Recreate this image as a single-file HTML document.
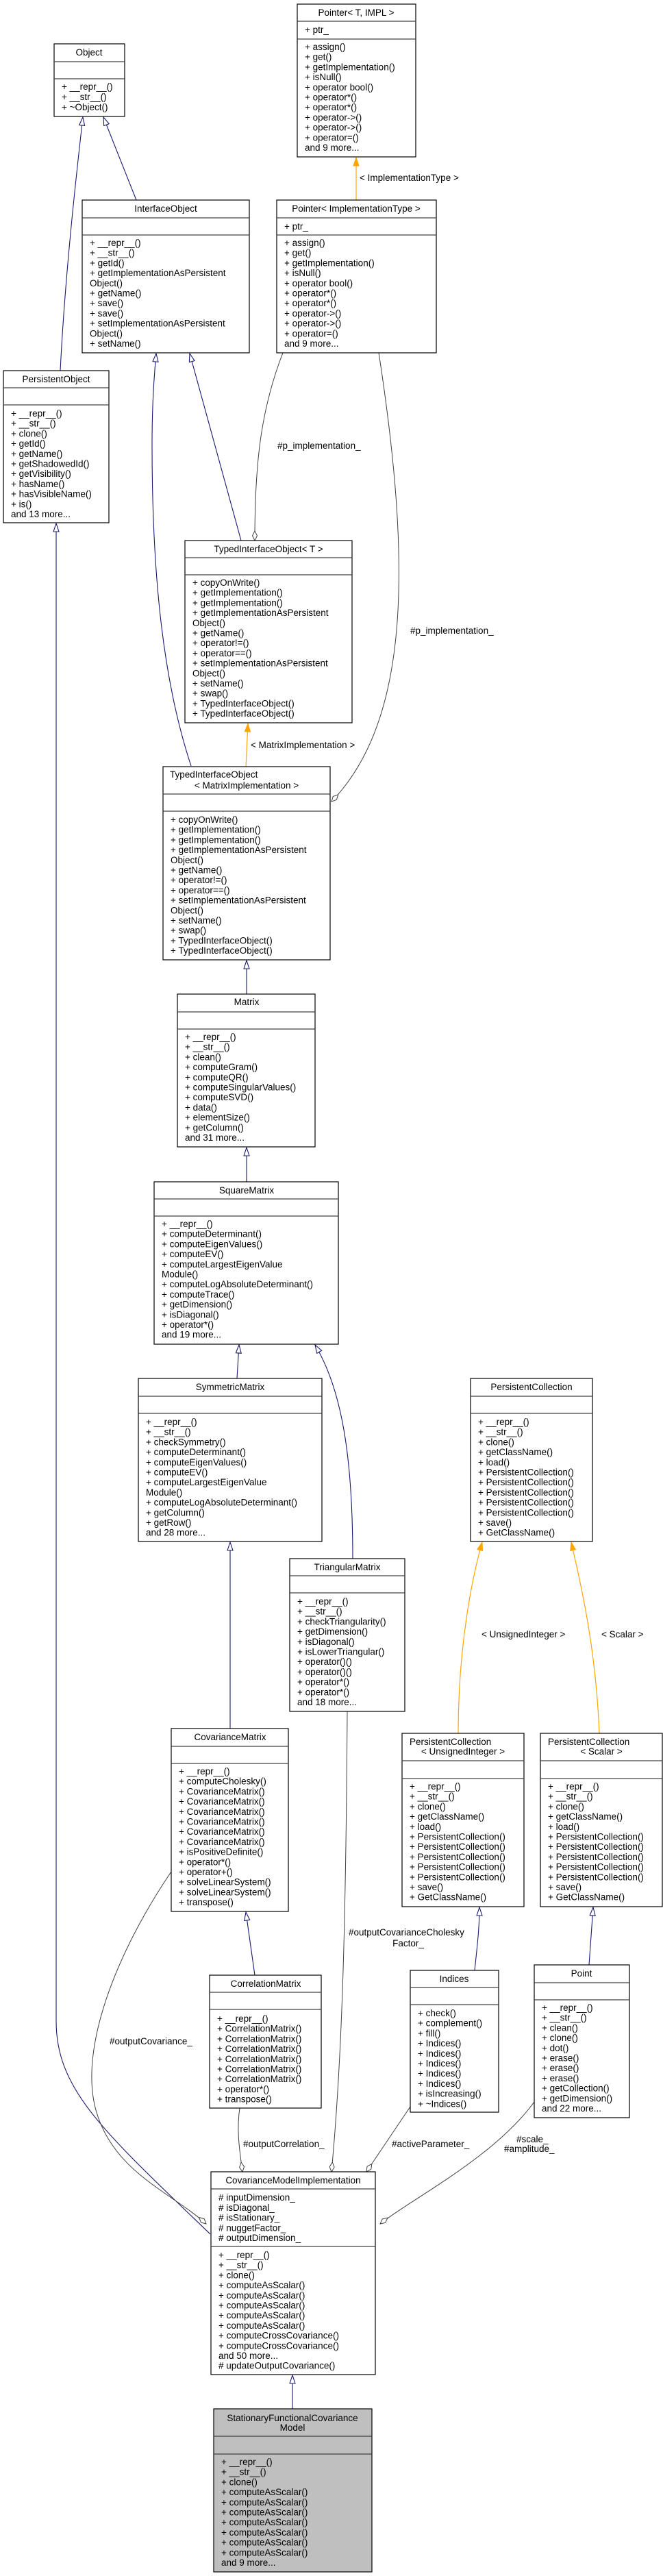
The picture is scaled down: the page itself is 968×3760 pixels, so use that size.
<!DOCTYPE html>
<html><head><meta charset="utf-8"><style>
html,body{margin:0;padding:0;background:#fff;}
svg{display:block;}
text{font-family:"Liberation Sans","DejaVu Sans",sans-serif;font-size:13.5px;fill:#000;}
.b{fill:#fff;stroke:#000;stroke-width:1.2;}
.g{fill:#bfbfbf;stroke:#000;stroke-width:1.2;}
.s{stroke:#404040;stroke-width:1.2;}
.inh{fill:none;stroke:#191970;stroke-width:1.1;marker-end:url(#tri);}
.cmp{fill:none;stroke:#404040;stroke-width:1;marker-end:url(#dia);}
.tpl{fill:none;stroke:#ffa500;stroke-width:1.2;marker-end:url(#ora);}
.c{text-anchor:middle;}
</style></head><body>
<svg width="968" height="3760" viewBox="0 0 968 3760" xmlns="http://www.w3.org/2000/svg">
<defs>
<marker id="tri" markerUnits="userSpaceOnUse" markerWidth="14" markerHeight="10" refX="13" refY="4.5" orient="auto"><path d="M1,0.5 L13,4.5 L1,8.5 Z" fill="#fff" stroke="#191970" stroke-width="1.1"/></marker>
<marker id="ora" markerUnits="userSpaceOnUse" markerWidth="14" markerHeight="10" refX="13" refY="4.5" orient="auto"><path d="M1,0.5 L13,4.5 L1,8.5 Z" fill="#ffa500" stroke="#ffa500" stroke-width="1"/></marker>
<marker id="dia" markerUnits="userSpaceOnUse" markerWidth="16" markerHeight="9" refX="15" refY="4" orient="auto"><path d="M1,4 L8,0.5 L15,4 L8,7.5 Z" fill="#fff" stroke="#404040" stroke-width="1"/></marker>
</defs>

<!-- edges -->
<path class="inh" d="M199,292 L151,171"/>
<path class="inh" d="M88,541 C95,400 112,250 121,171"/>
<path class="inh" d="M352,789 L277,516"/>
<path class="inh" d="M279,1118 C240,1000 222,850 222,650 C222,580 226,540 228,516"/>
<path class="cmp" d="M413,515 C380,600 372,680 372,789"/>
<path class="cmp" d="M553,515 C600,820 600,1050 484,1170"/>
<path class="tpl" d="M520,292 L520,230"/>
<path class="tpl" d="M359,1119 L362,1056"/>
<path class="inh" d="M360,1451 L360,1402"/>
<path class="inh" d="M360,1725 L360,1675"/>
<path class="inh" d="M346,2012 L349,1963"/>
<path class="inh" d="M515,2275 C515,2130 500,2030 460,1963"/>
<path class="inh" d="M336,2523 L336,2251"/>
<path class="tpl" d="M669,2530 C669,2400 690,2300 704,2251"/>
<path class="tpl" d="M875,2530 C870,2400 845,2300 834,2251"/>
<path class="inh" d="M372,2883 L359,2791"/>
<path class="inh" d="M693,2876 C698,2830 700,2810 700,2784"/>
<path class="inh" d="M860,2868 L866,2784"/>
<path class="inh" d="M307,3261 C150,3110 82,3050 82,2950 L82,764"/>
<path class="cmp" d="M507,2498 C505,2800 500,3000 484,3170"/>
<path class="cmp" d="M350,3077 C345,3110 350,3140 354,3170"/>
<path class="cmp" d="M250,2732 C170,2850 115,2990 140,3080 C165,3170 250,3200 301,3246"/>
<path class="cmp" d="M599,3075 L535,3170"/>
<path class="cmp" d="M780,3068 C720,3150 600,3210 555,3246"/>
<path class="inh" d="M427,3516 L427,3467"/>

<!-- edge labels -->
<text x="525" y="264">&lt; ImplementationType &gt;</text>
<text x="405" y="655">#p_implementation_</text>
<text x="599" y="925">#p_implementation_</text>
<text x="366" y="1092">&lt; MatrixImplementation &gt;</text>
<text x="703" y="2390">&lt; UnsignedInteger &gt;</text>
<text x="878" y="2390">&lt; Scalar &gt;</text>
<text x="509" y="2825">#outputCovarianceCholesky</text>
<text x="596" y="2841" class="c">Factor_</text>
<text x="160" y="2984">#outputCovariance_</text>
<text x="355" y="3134">#outputCorrelation_</text>
<text x="572" y="3134">#activeParameter_</text>
<text x="754" y="3127">#scale_</text>
<text x="736" y="3141">#amplitude_</text>

<!-- Pointer<T, IMPL> -->
<rect class="b" x="434" y="6" width="173" height="223"/>
<line class="s" x1="434" y1="31" x2="607" y2="31"/><line class="s" x1="434" y1="57" x2="607" y2="57"/>
<text x="520" y="23" class="c">Pointer&lt; T, IMPL &gt;</text>
<text x="445" y="48">+ ptr_</text>
<text x="445" y="73">+ assign()</text><text x="445" y="87.7">+ get()</text><text x="445" y="102.4">+ getImplementation()</text><text x="445" y="117.1">+ isNull()</text><text x="445" y="131.8">+ operator bool()</text><text x="445" y="146.5">+ operator*()</text><text x="445" y="161.2">+ operator*()</text><text x="445" y="175.9">+ operator-&gt;()</text><text x="445" y="190.6">+ operator-&gt;()</text><text x="445" y="205.3">+ operator=()</text><text x="445" y="220">and 9 more...</text>

<!-- Object -->
<rect class="b" x="79" y="64" width="103" height="106"/>
<line class="s" x1="79" y1="90" x2="182" y2="90"/><line class="s" x1="79" y1="115" x2="182" y2="115"/>
<text x="130" y="81" class="c">Object</text>
<text x="90" y="131">+ __repr__()</text><text x="90" y="146">+ __str__()</text><text x="90" y="161">+ ~Object()</text>

<!-- InterfaceObject -->
<rect class="b" x="120" y="292" width="244" height="223"/>
<line class="s" x1="120" y1="318" x2="364" y2="318"/><line class="s" x1="120" y1="343" x2="364" y2="343"/>
<text x="242" y="309" class="c">InterfaceObject</text>
<text x="131" y="359">+ __repr__()</text><text x="131" y="373.7">+ __str__()</text><text x="131" y="388.4">+ getId()</text><text x="131" y="403.1">+ getImplementationAsPersistent</text><text x="131" y="417.8">Object()</text><text x="131" y="432.5">+ getName()</text><text x="131" y="447.2">+ save()</text><text x="131" y="461.9">+ save()</text><text x="131" y="476.6">+ setImplementationAsPersistent</text><text x="131" y="491.3">Object()</text><text x="131" y="506">+ setName()</text>

<!-- Pointer<ImplementationType> -->
<rect class="b" x="404" y="292" width="233" height="223"/>
<line class="s" x1="404" y1="318" x2="637" y2="318"/><line class="s" x1="404" y1="343" x2="637" y2="343"/>
<text x="520" y="309" class="c">Pointer&lt; ImplementationType &gt;</text>
<text x="415" y="335">+ ptr_</text>
<text x="415" y="359">+ assign()</text><text x="415" y="373.7">+ get()</text><text x="415" y="388.4">+ getImplementation()</text><text x="415" y="403.1">+ isNull()</text><text x="415" y="417.8">+ operator bool()</text><text x="415" y="432.5">+ operator*()</text><text x="415" y="447.2">+ operator*()</text><text x="415" y="461.9">+ operator-&gt;()</text><text x="415" y="476.6">+ operator-&gt;()</text><text x="415" y="491.3">+ operator=()</text><text x="415" y="506">and 9 more...</text>

<!-- PersistentObject -->
<rect class="b" x="5" y="541" width="154" height="222"/>
<line class="s" x1="5" y1="566" x2="159" y2="566"/><line class="s" x1="5" y1="591" x2="159" y2="591"/>
<text x="82" y="558" class="c">PersistentObject</text>
<text x="16" y="608">+ __repr__()</text><text x="16" y="622.7">+ __str__()</text><text x="16" y="637.4">+ clone()</text><text x="16" y="652.1">+ getId()</text><text x="16" y="666.8">+ getName()</text><text x="16" y="681.5">+ getShadowedId()</text><text x="16" y="696.2">+ getVisibility()</text><text x="16" y="710.9">+ hasName()</text><text x="16" y="725.6">+ hasVisibleName()</text><text x="16" y="740.3">+ is()</text><text x="16" y="755">and 13 more...</text>

<!-- TypedInterfaceObject<T> -->
<rect class="b" x="270" y="789" width="244" height="266"/>
<line class="s" x1="270" y1="814" x2="514" y2="814"/><line class="s" x1="270" y1="839" x2="514" y2="839"/>
<text x="392" y="806" class="c">TypedInterfaceObject&lt; T &gt;</text>
<text x="281" y="855">+ copyOnWrite()</text><text x="281" y="869.7">+ getImplementation()</text><text x="281" y="884.4">+ getImplementation()</text><text x="281" y="899.1">+ getImplementationAsPersistent</text><text x="281" y="913.8">Object()</text><text x="281" y="928.5">+ getName()</text><text x="281" y="943.2">+ operator!=()</text><text x="281" y="957.9">+ operator==()</text><text x="281" y="972.6">+ setImplementationAsPersistent</text><text x="281" y="987.3">Object()</text><text x="281" y="1002">+ setName()</text><text x="281" y="1016.7">+ swap()</text><text x="281" y="1031.4">+ TypedInterfaceObject()</text><text x="281" y="1046.1">+ TypedInterfaceObject()</text>

<!-- TypedInterfaceObject<MatrixImplementation> -->
<rect class="b" x="238" y="1119" width="244" height="282"/>
<line class="s" x1="238" y1="1159" x2="482" y2="1159"/><line class="s" x1="238" y1="1184" x2="482" y2="1184"/>
<text x="248" y="1135">TypedInterfaceObject</text>
<text x="360" y="1151" class="c">&lt; MatrixImplementation &gt;</text>
<text x="249" y="1201">+ copyOnWrite()</text><text x="249" y="1215.7">+ getImplementation()</text><text x="249" y="1230.4">+ getImplementation()</text><text x="249" y="1245.1">+ getImplementationAsPersistent</text><text x="249" y="1259.8">Object()</text><text x="249" y="1274.5">+ getName()</text><text x="249" y="1289.2">+ operator!=()</text><text x="249" y="1303.9">+ operator==()</text><text x="249" y="1318.6">+ setImplementationAsPersistent</text><text x="249" y="1333.3">Object()</text><text x="249" y="1348">+ setName()</text><text x="249" y="1362.7">+ swap()</text><text x="249" y="1377.4">+ TypedInterfaceObject()</text><text x="249" y="1392.1">+ TypedInterfaceObject()</text>

<!-- Matrix -->
<rect class="b" x="259" y="1451" width="201" height="223"/>
<line class="s" x1="259" y1="1477" x2="460" y2="1477"/><line class="s" x1="259" y1="1502" x2="460" y2="1502"/>
<text x="360" y="1467" class="c">Matrix</text>
<text x="270" y="1518">+ __repr__()</text><text x="270" y="1532.7">+ __str__()</text><text x="270" y="1547.4">+ clean()</text><text x="270" y="1562.1">+ computeGram()</text><text x="270" y="1576.8">+ computeQR()</text><text x="270" y="1591.5">+ computeSingularValues()</text><text x="270" y="1606.2">+ computeSVD()</text><text x="270" y="1620.9">+ data()</text><text x="270" y="1635.6">+ elementSize()</text><text x="270" y="1650.3">+ getColumn()</text><text x="270" y="1665">and 31 more...</text>

<!-- SquareMatrix -->
<rect class="b" x="225" y="1725" width="269" height="237"/>
<line class="s" x1="225" y1="1750" x2="494" y2="1750"/><line class="s" x1="225" y1="1775" x2="494" y2="1775"/>
<text x="360" y="1742" class="c">SquareMatrix</text>
<text x="236" y="1791">+ __repr__()</text><text x="236" y="1805.7">+ computeDeterminant()</text><text x="236" y="1820.4">+ computeEigenValues()</text><text x="236" y="1835.1">+ computeEV()</text><text x="236" y="1849.8">+ computeLargestEigenValue</text><text x="236" y="1864.5">Module()</text><text x="236" y="1879.2">+ computeLogAbsoluteDeterminant()</text><text x="236" y="1893.9">+ computeTrace()</text><text x="236" y="1908.6">+ getDimension()</text><text x="236" y="1923.3">+ isDiagonal()</text><text x="236" y="1938">+ operator*()</text><text x="236" y="1952.7">and 19 more...</text>

<!-- SymmetricMatrix -->
<rect class="b" x="202" y="2012" width="268" height="238"/>
<line class="s" x1="202" y1="2038" x2="470" y2="2038"/><line class="s" x1="202" y1="2063" x2="470" y2="2063"/>
<text x="336" y="2029" class="c">SymmetricMatrix</text>
<text x="213" y="2080">+ __repr__()</text><text x="213" y="2094.7">+ __str__()</text><text x="213" y="2109.4">+ checkSymmetry()</text><text x="213" y="2124.1">+ computeDeterminant()</text><text x="213" y="2138.8">+ computeEigenValues()</text><text x="213" y="2153.5">+ computeEV()</text><text x="213" y="2168.2">+ computeLargestEigenValue</text><text x="213" y="2182.9">Module()</text><text x="213" y="2197.6">+ computeLogAbsoluteDeterminant()</text><text x="213" y="2212.3">+ getColumn()</text><text x="213" y="2227">+ getRow()</text><text x="213" y="2241.7">and 28 more...</text>

<!-- PersistentCollection -->
<rect class="b" x="687" y="2012" width="178" height="238"/>
<line class="s" x1="687" y1="2038" x2="865" y2="2038"/><line class="s" x1="687" y1="2063" x2="865" y2="2063"/>
<text x="776" y="2029" class="c">PersistentCollection</text>
<text x="698" y="2080">+ __repr__()</text><text x="698" y="2094.7">+ __str__()</text><text x="698" y="2109.4">+ clone()</text><text x="698" y="2124.1">+ getClassName()</text><text x="698" y="2138.8">+ load()</text><text x="698" y="2153.5">+ PersistentCollection()</text><text x="698" y="2168.2">+ PersistentCollection()</text><text x="698" y="2182.9">+ PersistentCollection()</text><text x="698" y="2197.6">+ PersistentCollection()</text><text x="698" y="2212.3">+ PersistentCollection()</text><text x="698" y="2227">+ save()</text><text x="698" y="2241.7">+ GetClassName()</text>

<!-- TriangularMatrix -->
<rect class="b" x="423" y="2275" width="168" height="223"/>
<line class="s" x1="423" y1="2300" x2="591" y2="2300"/><line class="s" x1="423" y1="2325" x2="591" y2="2325"/>
<text x="507" y="2292" class="c">TriangularMatrix</text>
<text x="434" y="2342">+ __repr__()</text><text x="434" y="2356.7">+ __str__()</text><text x="434" y="2371.4">+ checkTriangularity()</text><text x="434" y="2386.1">+ getDimension()</text><text x="434" y="2400.8">+ isDiagonal()</text><text x="434" y="2415.5">+ isLowerTriangular()</text><text x="434" y="2430.2">+ operator()()</text><text x="434" y="2444.9">+ operator()()</text><text x="434" y="2459.6">+ operator*()</text><text x="434" y="2474.3">+ operator*()</text><text x="434" y="2489">and 18 more...</text>

<!-- CovarianceMatrix -->
<rect class="b" x="250" y="2523" width="171" height="267"/>
<line class="s" x1="250" y1="2549" x2="421" y2="2549"/><line class="s" x1="250" y1="2574" x2="421" y2="2574"/>
<text x="336" y="2540" class="c">CovarianceMatrix</text>
<text x="261" y="2590">+ __repr__()</text><text x="261" y="2604.7">+ computeCholesky()</text><text x="261" y="2619.4">+ CovarianceMatrix()</text><text x="261" y="2634.1">+ CovarianceMatrix()</text><text x="261" y="2648.8">+ CovarianceMatrix()</text><text x="261" y="2663.5">+ CovarianceMatrix()</text><text x="261" y="2678.2">+ CovarianceMatrix()</text><text x="261" y="2692.9">+ CovarianceMatrix()</text><text x="261" y="2707.6">+ isPositiveDefinite()</text><text x="261" y="2722.3">+ operator*()</text><text x="261" y="2737">+ operator+()</text><text x="261" y="2751.7">+ solveLinearSystem()</text><text x="261" y="2766.4">+ solveLinearSystem()</text><text x="261" y="2781.1">+ transpose()</text>

<!-- PersistentCollection<UnsignedInteger> -->
<rect class="b" x="587" y="2530" width="178" height="253"/>
<line class="s" x1="587" y1="2570" x2="765" y2="2570"/><line class="s" x1="587" y1="2596" x2="765" y2="2596"/>
<text x="598" y="2547">PersistentCollection</text>
<text x="676" y="2561" class="c">&lt; UnsignedInteger &gt;</text>
<text x="598" y="2612">+ __repr__()</text><text x="598" y="2626.7">+ __str__()</text><text x="598" y="2641.4">+ clone()</text><text x="598" y="2656.1">+ getClassName()</text><text x="598" y="2670.8">+ load()</text><text x="598" y="2685.5">+ PersistentCollection()</text><text x="598" y="2700.2">+ PersistentCollection()</text><text x="598" y="2714.9">+ PersistentCollection()</text><text x="598" y="2729.6">+ PersistentCollection()</text><text x="598" y="2744.3">+ PersistentCollection()</text><text x="598" y="2759">+ save()</text><text x="598" y="2773.7">+ GetClassName()</text>

<!-- PersistentCollection<Scalar> -->
<rect class="b" x="789" y="2530" width="178" height="253"/>
<line class="s" x1="789" y1="2570" x2="967" y2="2570"/><line class="s" x1="789" y1="2596" x2="967" y2="2596"/>
<text x="800" y="2547">PersistentCollection</text>
<text x="878" y="2561" class="c">&lt; Scalar &gt;</text>
<text x="800" y="2612">+ __repr__()</text><text x="800" y="2626.7">+ __str__()</text><text x="800" y="2641.4">+ clone()</text><text x="800" y="2656.1">+ getClassName()</text><text x="800" y="2670.8">+ load()</text><text x="800" y="2685.5">+ PersistentCollection()</text><text x="800" y="2700.2">+ PersistentCollection()</text><text x="800" y="2714.9">+ PersistentCollection()</text><text x="800" y="2729.6">+ PersistentCollection()</text><text x="800" y="2744.3">+ PersistentCollection()</text><text x="800" y="2759">+ save()</text><text x="800" y="2773.7">+ GetClassName()</text>

<!-- CorrelationMatrix -->
<rect class="b" x="306" y="2883" width="163" height="194"/>
<line class="s" x1="306" y1="2908" x2="469" y2="2908"/><line class="s" x1="306" y1="2933" x2="469" y2="2933"/>
<text x="388" y="2900" class="c">CorrelationMatrix</text>
<text x="317" y="2951">+ __repr__()</text><text x="317" y="2965.7">+ CorrelationMatrix()</text><text x="317" y="2980.4">+ CorrelationMatrix()</text><text x="317" y="2995.1">+ CorrelationMatrix()</text><text x="317" y="3009.8">+ CorrelationMatrix()</text><text x="317" y="3024.5">+ CorrelationMatrix()</text><text x="317" y="3039.2">+ CorrelationMatrix()</text><text x="317" y="3053.9">+ operator*()</text><text x="317" y="3068.6">+ transpose()</text>

<!-- Indices -->
<rect class="b" x="599" y="2876" width="129" height="207"/>
<line class="s" x1="599" y1="2901" x2="728" y2="2901"/><line class="s" x1="599" y1="2926" x2="728" y2="2926"/>
<text x="663" y="2893" class="c">Indices</text>
<text x="610" y="2943">+ check()</text><text x="610" y="2957.7">+ complement()</text><text x="610" y="2972.4">+ fill()</text><text x="610" y="2987.1">+ Indices()</text><text x="610" y="3001.8">+ Indices()</text><text x="610" y="3016.5">+ Indices()</text><text x="610" y="3031.2">+ Indices()</text><text x="610" y="3045.9">+ Indices()</text><text x="610" y="3060.6">+ isIncreasing()</text><text x="610" y="3075.3">+ ~Indices()</text>

<!-- Point -->
<rect class="b" x="780" y="2868" width="139" height="223"/>
<line class="s" x1="780" y1="2894" x2="919" y2="2894"/><line class="s" x1="780" y1="2919" x2="919" y2="2919"/>
<text x="849" y="2885" class="c">Point</text>
<text x="791" y="2935">+ __repr__()</text><text x="791" y="2949.7">+ __str__()</text><text x="791" y="2964.4">+ clean()</text><text x="791" y="2979.1">+ clone()</text><text x="791" y="2993.8">+ dot()</text><text x="791" y="3008.5">+ erase()</text><text x="791" y="3023.2">+ erase()</text><text x="791" y="3037.9">+ erase()</text><text x="791" y="3052.6">+ getCollection()</text><text x="791" y="3067.3">+ getDimension()</text><text x="791" y="3082">and 22 more...</text>

<!-- CovarianceModelImplementation -->
<rect class="b" x="308" y="3170" width="240" height="296"/>
<line class="s" x1="308" y1="3195" x2="548" y2="3195"/><line class="s" x1="308" y1="3279" x2="548" y2="3279"/>
<text x="428" y="3187" class="c">CovarianceModelImplementation</text>
<text x="319" y="3212"># inputDimension_</text><text x="319" y="3226.8"># isDiagonal_</text><text x="319" y="3241.6"># isStationary_</text><text x="319" y="3256.4"># nuggetFactor_</text><text x="319" y="3271.2"># outputDimension_</text>
<text x="319" y="3296">+ __repr__()</text><text x="319" y="3310.7">+ __str__()</text><text x="319" y="3325.4">+ clone()</text><text x="319" y="3340.1">+ computeAsScalar()</text><text x="319" y="3354.8">+ computeAsScalar()</text><text x="319" y="3369.5">+ computeAsScalar()</text><text x="319" y="3384.2">+ computeAsScalar()</text><text x="319" y="3398.9">+ computeAsScalar()</text><text x="319" y="3413.6">+ computeCrossCovariance()</text><text x="319" y="3428.3">+ computeCrossCovariance()</text><text x="319" y="3443">and 50 more...</text><text x="319" y="3457.7"># updateOutputCovariance()</text>

<!-- StationaryFunctionalCovarianceModel -->
<rect class="g" x="312" y="3516" width="231" height="238"/>
<line class="s" x1="312" y1="3556" x2="543" y2="3556"/><line class="s" x1="312" y1="3582" x2="543" y2="3582"/>
<text x="427" y="3534" class="c">StationaryFunctionalCovariance</text>
<text x="427" y="3548" class="c">Model</text>
<text x="323" y="3598">+ __repr__()</text><text x="323" y="3612.7">+ __str__()</text><text x="323" y="3627.4">+ clone()</text><text x="323" y="3642.1">+ computeAsScalar()</text><text x="323" y="3656.8">+ computeAsScalar()</text><text x="323" y="3671.5">+ computeAsScalar()</text><text x="323" y="3686.2">+ computeAsScalar()</text><text x="323" y="3700.9">+ computeAsScalar()</text><text x="323" y="3715.6">+ computeAsScalar()</text><text x="323" y="3730.3">+ computeAsScalar()</text><text x="323" y="3745">and 9 more...</text>
</svg>
</body></html>
